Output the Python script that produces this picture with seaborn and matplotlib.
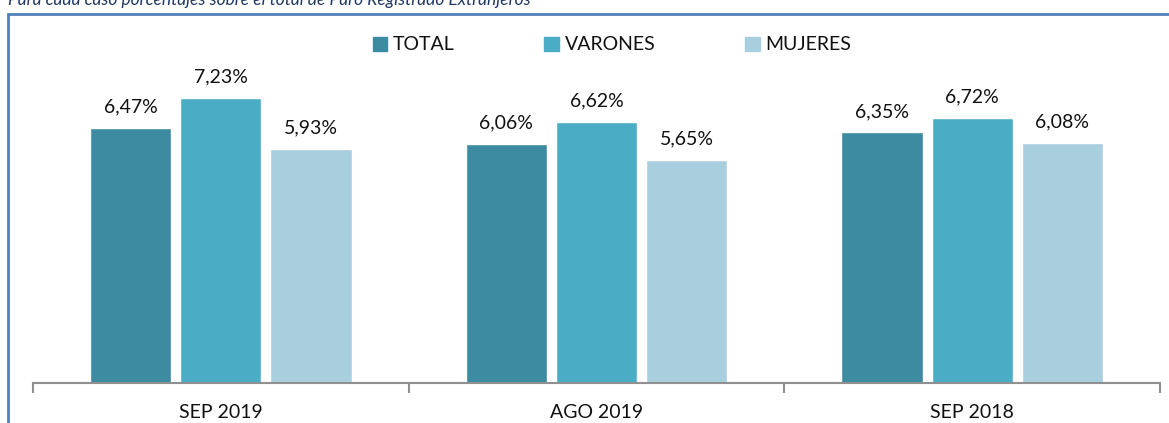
import matplotlib
matplotlib.use("Agg")
import matplotlib.pyplot as plt
import matplotlib.patches as mpatches
import seaborn as sns
import pandas as pd

# === 数据 ===
periodos = ["SEP 2019", "AGO 2019", "SEP 2018"]
series = ["TOTAL", "VARONES", "MUJERES"]
total = [6.47, 6.06, 6.35]
varones = [7.23, 6.62, 6.72]
mujeres = [5.93, 5.65, 6.08]
colores = ["#3C8BA1", "#4BACC6", "#A9CFDE"]
subtitulo = "Para cada caso porcentajes sobre el total de Paro Registrado Extranjeros"

sns.set_theme(style="white")
plt.rcParams['font.family'] = ['Lato', 'DejaVu Sans']

df = pd.DataFrame({
    "Periodo": periodos * 3,
    "Serie": ["TOTAL"] * 3 + ["VARONES"] * 3 + ["MUJERES"] * 3,
    "Valor": total + varones + mujeres,
})

W, H = 1169, 423
fig = plt.figure(figsize=(W / 100, H / 100), dpi=100)
ax = fig.add_axes([33 / W, 40 / H, (1160 - 33) / W, (383 - 20) / H])

sns.barplot(data=df, x="Periodo", y="Valor", hue="Serie", order=periodos,
            hue_order=series, palette=colores, width=0.72, gap=0.1,
            saturation=1, ax=ax, legend=False)

for cont in ax.containers:
    ax.bar_label(cont, labels=[f"{v:.2f}%".replace(".", ",") for v in cont.datavalues],
                 padding=9, fontsize=14, color="#111111")

ax.set_ylim(0, 9.2)
ax.set_xlim(-0.5, 2.5)
ax.set_xlabel("")
ax.set_ylabel("")
ax.set_yticks([])
for s in ["top", "right", "left"]:
    ax.spines[s].set_visible(False)
ax.spines["bottom"].set_color("#909090")
ax.spines["bottom"].set_linewidth(1.5)
ax.set_xticks(range(3))
ax.set_xticklabels(periodos, fontsize=14, color="#111111")
ax.tick_params(axis="x", which="major", length=0, pad=15)
ax.set_xticks([-0.5, 0.5, 1.5, 2.5], minor=True)
ax.tick_params(axis="x", which="minor", length=7, width=1.5, color="#909090",
               direction="out", bottom=True)

handles = [mpatches.Patch(color=c, label=s) for c, s in zip(colores, series)]
fig.legend(handles=handles, loc="center", bbox_to_anchor=(612 / W, 1 - 45 / H),
           ncol=3, frameon=False, fontsize=14, handlelength=0.75, handleheight=0.75,
           handletextpad=0.3, columnspacing=4.6, labelcolor="#111111")

# marco azul del gráfico
fig.patches.append(mpatches.Rectangle((8 / W, -0.1), 1.2, 1 - 14 / H + 0.1,
                                      transform=fig.transFigure, fill=False,
                                      edgecolor="#4F81BD", linewidth=2))
fig.text(8 / W, 1 - 5 / H, subtitulo, fontsize=12.5, style="italic",
         color="#1F3864", va="baseline", ha="left")

fig.savefig("out.png", dpi=100)
